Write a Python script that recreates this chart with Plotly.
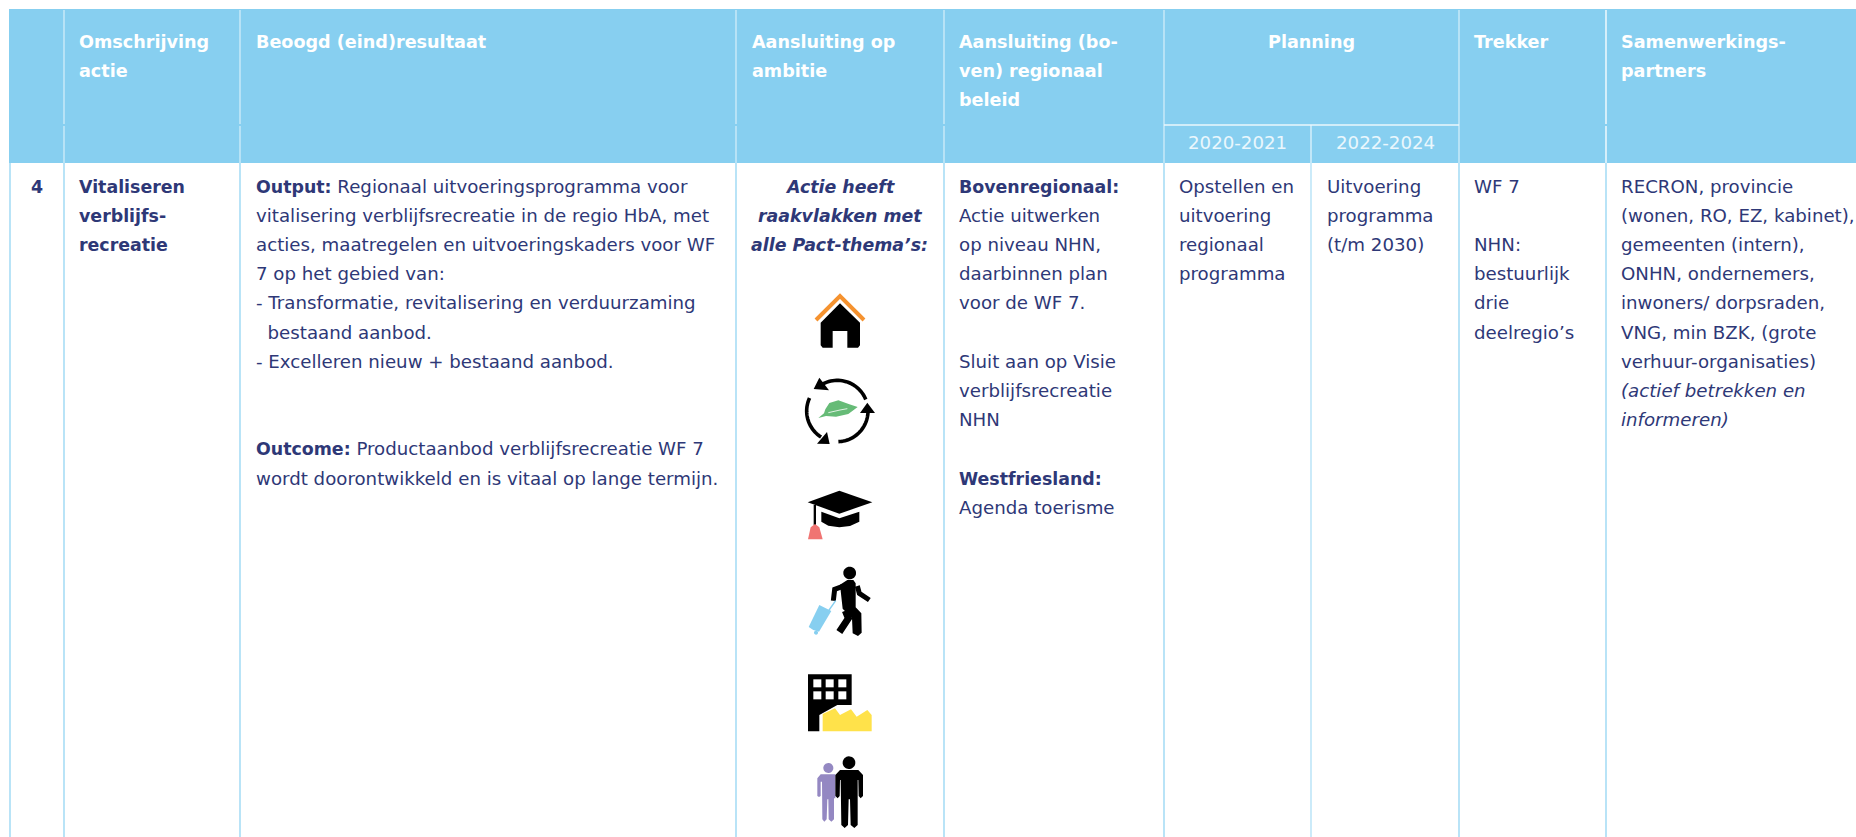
import re
import numpy as np
import plotly.graph_objects as go

W, H = 1856, 837
FONT = "DejaVu Sans"
FS = 18.2
FS_BOLD = 17.4
FS_HEAD = 17.6
NAVY = "#2E3877"
HEAD = "#87CFF0"
BODY_LINE = "#A8DDF5"
HEAD_LINE = "#C4E8F8"

column_edges = [10, 64, 240, 736, 944, 1164, 1459, 1606]
planning_split = 1311
header_top, header_split, header_bottom = 9, 125, 163
line_step = 29.2
body_first = 186
header_first = 41.5

headers = [
    (78, ["Omschrijving", "actie"]),
    (254.5, ["Beoogd (eind)resultaat"]),
    (750.5, ["Aansluiting op", "ambitie"]),
    (958, ["Aansluiting (bo-", "ven) regionaal", "beleid"]),
    (1473, ["Trekker"]),
    (1620, ["Samenwerkings-", "partners"]),
]
planning_title = "Planning"
planning_years = [(1237, "2020-2021"), (1385, "2022-2024")]

action_number = "4"
action_name = ["<b>Vitaliseren</b>", "<b>verblijfs-</b>", "<b>recreatie</b>"]
result_lines = [
    "<b>Output:</b> Regionaal uitvoeringsprogramma voor",
    "vitalisering verblijfsrecreatie in de regio HbA, met",
    "acties, maatregelen en uitvoeringskaders voor WF",
    "7 op het gebied van:",
    "- Transformatie, revitalisering en verduurzaming",
    "  bestaand aanbod.",
    "- Excelleren nieuw + bestaand aanbod.",
    "", "",
    "<b>Outcome:</b> Productaanbod verblijfsrecreatie WF 7",
    "wordt doorontwikkeld en is vitaal op lange termijn.",
]
ambition_lines = ["<b><i>Actie heeft</i></b>", "<b><i>raakvlakken met</i></b>", "<b><i>alle Pact-thema’s:</i></b>"]
policy_lines = [
    "<b>Bovenregionaal:</b>", "Actie uitwerken", "op niveau NHN,", "daarbinnen plan", "voor de WF 7.", "",
    "Sluit aan op Visie", "verblijfsrecreatie", "NHN", "",
    "<b>Westfriesland:</b>", "Agenda toerisme",
]
plan_a_lines = ["Opstellen en", "uitvoering", "regionaal", "programma"]
plan_b_lines = ["Uitvoering", "programma", "(t/m 2030)"]
lead_lines = ["WF 7", "", "NHN:", "bestuurlijk", "drie", "deelregio’s"]
partner_lines = [
    "RECRON, provincie", "(wonen, RO, EZ, kabinet),", "gemeenten (intern),", "ONHN, ondernemers,",
    "inwoners/ dorpsraden,", "VNG, min BZK, (grote", "verhuur-organisaties)",
    "<i>(actief betrekken en</i>", "<i>informeren)</i>",
]

fig = go.Figure()
shapes = []


def rect(x0, y0, x1, y1, color):
    shapes.append(dict(type="rect", x0=x0, y0=y0, x1=x1, y1=y1, fillcolor=color, line_width=0, layer="above"))


def vline(x, y0, y1, color, width=1.6):
    shapes.append(dict(type="line", x0=x, x1=x, y0=y0, y1=y1, line=dict(color=color, width=width), layer="above"))


def hline(x0, x1, y, color, width=1.4):
    shapes.append(dict(type="line", x0=x0, x1=x1, y0=y, y1=y, line=dict(color=color, width=width), layer="above"))


def text(x, y, s, anchor="left", color=NAVY, size=FS, bold_size=FS_BOLD):
    if s:
        if s.startswith("<b>") and s.endswith("</b>") and s.count("<b>") == 1 and color == NAVY:
            y += 1
        s = re.sub(r"<b>(.*?)</b>", lambda m: f'<b><span style="font-size:{bold_size}px">{m.group(1)}</span></b>', s)
        fig.add_annotation(x=x, y=y, text=s, showarrow=False, xanchor=anchor, yanchor="middle", align=anchor,
                           borderpad=0, font=dict(family=FONT, size=size, color=color))


def column(x, lines, first=body_first, anchor="left", color=NAVY, bold_size=FS_BOLD):
    for i, s in enumerate(lines):
        text(x, first + i * line_step, s, anchor, color, bold_size=bold_size)


# Icon helpers: coordinates are pixels of a local icon frame (3x zoomed), origin given per icon group
def poly(pts, color, ox, oy, outline=None, ow=0, close=True):
    d = ""
    for i, (a, b) in enumerate(pts):
        d += ("M" if i == 0 else "L") + f"{ox + a / 3:.2f},{oy + b / 3:.2f} "
    if close:
        d += "Z"
    shapes.append(dict(type="path", path=d, fillcolor=color if close else "rgba(0,0,0,0)",
                       line=dict(color=outline or color, width=ow), layer="above"))


def stroke(pts, color, width, ox, oy):
    poly(pts, color, ox, oy, outline=color, ow=width, close=False)


def circle(cx, cy, r, color, ox, oy):
    t = np.linspace(0, 2 * np.pi, 36)[:-1]
    poly(list(zip(cx + r * np.cos(t), cy + r * np.sin(t))), color, ox, oy, ow=0)


def arc(cx, cy, r, a0, a1, color, width, ox, oy):
    t = np.radians(np.linspace(a0, a1, 30))
    stroke(list(zip(cx + r * np.cos(t), cy + r * np.sin(t))), color, width, ox, oy)


# Table frame
rect(9, header_top, W, header_bottom, HEAD)
for x in column_edges[1:5]:
    vline(x, header_top + 1, header_split - 1, HEAD_LINE)
    vline(x, header_split + 1, header_bottom, HEAD_LINE)
for x in column_edges[5:6]:
    vline(x, header_top + 1, header_bottom, HEAD_LINE)
vline(column_edges[6], header_top + 1, header_bottom, HEAD_LINE)
vline(column_edges[7], header_top + 1, header_split - 1, "#EAF7FD")
vline(column_edges[7], header_split + 1, header_bottom, "#EAF7FD")
hline(column_edges[5], column_edges[6], header_split, "#EAF7FD")
vline(planning_split, header_split, header_bottom, "#EAF7FD", 1.2)
for x in column_edges:
    vline(x, header_bottom, H, BODY_LINE)
vline(planning_split, header_bottom, H, BODY_LINE, 1.2)

# Icons, upper group
ox, oy = 760, 270
poly([(240, 100), (300, 158), (300, 226), (294, 233), (262, 233), (262, 183), (218, 183), (218, 233),
      (188, 233), (182, 226), (182, 158)], "#000000", ox, oy)
stroke([(168, 150), (240, 78), (312, 150)], "#F5922F", 4, ox, oy)
arc(232, 423, 92, -22, -128, "#000000", 3.6, ox, oy)
arc(232, 423, 92, -155, -238, "#000000", 3.6, ox, oy)
arc(232, 423, 92, 88, -2, "#000000", 3.6, ox, oy)
poly([(178, 323), (161, 357), (207, 361)], "#000000", ox, oy)
poly([(171, 521), (209, 522), (201, 486)], "#000000", ox, oy)
poly([(300, 429), (345, 429), (322, 398)], "#000000", ox, oy)
poly([(293, 411), (268, 403), (235, 391), (208, 399), (196, 418), (192, 430), (175, 444), (198, 438),
      (228, 440), (265, 432)], "#66BB77", ox, oy)
stroke([(205, 428), (240, 420), (262, 416)], "#FFFFFF", 0.8, ox, oy)
poly([(238, 662), (337, 697), (238, 731), (143, 697)], "#000000", ox, oy)
poly([(184, 725), (238, 745), (298, 725), (298, 755), (270, 768), (238, 772), (205, 767), (184, 755)],
     "#000000", ox, oy)
rect(ox + 161 / 3, oy + 705 / 3, ox + 168 / 3, oy + 765 / 3, "#000000")
poly([(144, 808), (152, 772), (165, 762), (178, 772), (188, 808)], "#F07472", ox, oy)

# Icons, lower group
ox, oy = 760, 550
circle(269, 69, 19, "#000000", ox, oy)
stroke([(246, 110), (224, 118), (220, 152)], "#000000", 5, ox, oy)
poly([(240, 104), (262, 90), (280, 90), (287, 100), (287, 172), (304, 190), (305, 248), (294, 258),
      (278, 250), (276, 205), (248, 176)], "#000000", ox, oy)
stroke([(256, 182), (265, 205), (238, 246)], "#000000", 7, ox, oy)
stroke([(292, 108), (298, 130), (328, 150)], "#000000", 5, ox, oy)
poly([(178, 165), (214, 183), (177, 245), (160, 240), (146, 231)], "#87CFF0", ox, oy)
stroke([(227, 152), (206, 182)], "#87CFF0", 1.5, ox, oy)
circle(168, 248, 6, "#87CFF0", ox, oy)
poly([(144, 373), (275, 373), (275, 465), (232, 465), (178, 495), (178, 544), (144, 544)], "#000000", ox, oy)
for wx in (160, 197, 235):
    for wy in (388, 424):
        rect(ox + wx / 3, oy + wy / 3, ox + (wx + 24) / 3, oy + (wy + 24) / 3, "#FFFFFF")
poly([(188, 492), (225, 475), (240, 495), (273, 478), (290, 500), (322, 480), (335, 495), (335, 544), (188, 544)],
     "#FFE24A", ox, oy)
circle(205, 654, 15, "#9488C2", ox, oy)
poly([(182, 673), (226, 673), (226, 745), (222, 745), (222, 808), (214, 815), (206, 808), (205, 748), (202, 748),
      (200, 808), (193, 815), (187, 808), (186, 695), (182, 695), (182, 738), (177, 741), (172, 738), (172, 685)],
     "#9488C2", ox, oy)
circle(267, 638, 19, "#000000", ox, oy)
poly([(240, 660), (295, 660), (309, 675), (309, 738), (302, 745), (296, 738), (295, 690), (293, 690), (293, 825),
      (283, 834), (272, 825), (270, 748), (266, 748), (264, 825), (254, 834), (244, 825), (242, 690), (240, 690),
      (239, 738), (233, 745), (226, 738), (226, 675)], "#000000", ox, oy)

# Header text
for x, lines in headers:
    column(x, [f"<b>{s}</b>" for s in lines], header_first, color="#FFFFFF", bold_size=FS_HEAD)
text(planning_split, header_first, f"<b>{planning_title}</b>", "center", "#FFFFFF", bold_size=FS_HEAD)
for x, s in planning_years:
    text(x, 142, s, "center", "#EAF7FD")

# Body text
text(36.5, body_first, f"<b>{action_number}</b>", "center")
column(78, action_name)
column(254.5, result_lines)
column(839.5, ambition_lines, anchor="center")
column(958, policy_lines)
column(1178, plan_a_lines)
column(1326, plan_b_lines)
column(1473, lead_lines)
column(1620, partner_lines)

fig.update_layout(
    width=W, height=H, autosize=False, margin=dict(l=0, r=0, t=0, b=0),
    paper_bgcolor="#FFFFFF", plot_bgcolor="#FFFFFF", showlegend=False, shapes=shapes,
    xaxis=dict(range=[0, W], visible=False, fixedrange=True),
    yaxis=dict(range=[H, 0], visible=False, fixedrange=True),
)
fig.write_html("out.html", config=dict(displayModeBar=False),
               post_script="document.body.style.margin='0';document.body.style.overflow='hidden';")
